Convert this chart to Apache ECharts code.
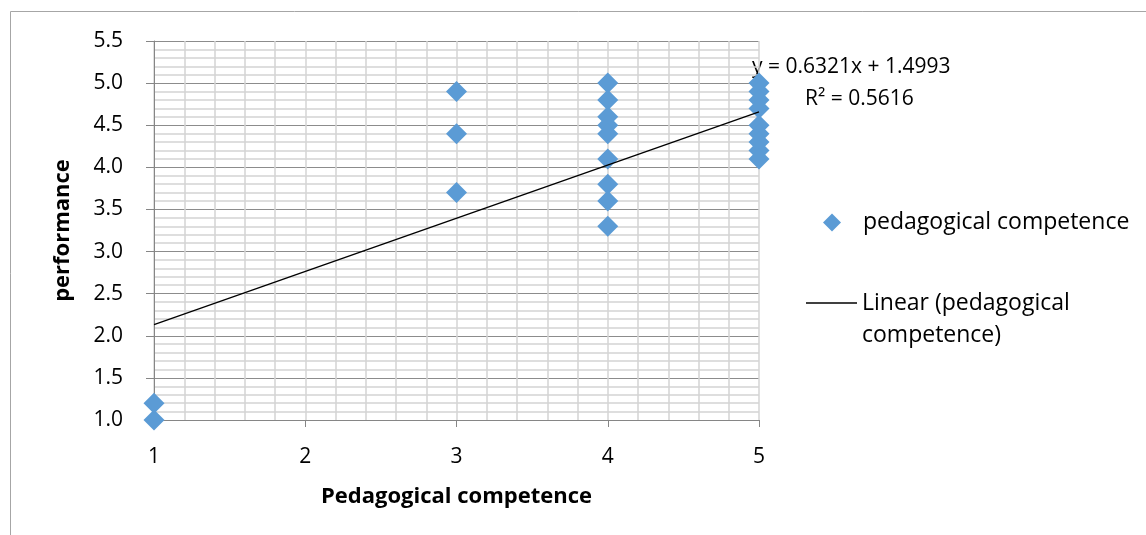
<!DOCTYPE html>
<html>
<head>
<meta charset="utf-8">
<style>
  html, body { margin: 0; padding: 0; background: #ffffff; }
  #chart { width: 1146px; height: 535px; }
</style>
<script src="https://cdn.jsdelivr.net/npm/echarts@6/dist/echarts.min.js"></script>
</head>
<body>
<div id="chart"></div>
<script>
// Pedagogical competence (x) vs performance (y)
const competence = [1, 1, 3, 3, 3, 4, 4, 4, 4, 4, 4, 4, 4, 4, 5, 5, 5, 5, 5, 5, 5, 5, 5];
const performance = [1.0, 1.2, 4.9, 4.4, 3.7, 5.0, 4.8, 4.6, 4.5, 4.4, 4.1, 3.8, 3.6, 3.3, 5.0, 4.9, 4.8, 4.7, 4.5, 4.4, 4.3, 4.2, 4.1];

// Linear trendline as reported
const trendSlope = 0.6321;
const trendIntercept = 1.4993;
const trendRSquared = 0.5616;
const trendRange = [1, 5];

const seriesName = 'pedagogical competence';
const trendName = 'Linear (pedagogical competence)';

const scatterData = competence.map((x, i) => [x, performance[i]]);
const trendData = trendRange.map(x => [x, trendSlope * x + trendIntercept]);

const FONT = '"Open Sans", Lato, sans-serif';
const FS = 21;      // tick labels and equation
const FS_NAME = 22; // axis titles
const FS_LEG = 23;  // legend
// diamond swatch centred in a 52px-wide box (the end points only widen the box)
const DIAMOND_ICON = 'path://M0,9L0,9M52,9L52,9M26,0L35,9L26,18L17,9Z';

const chart = echarts.init(document.getElementById('chart'), null, { renderer: 'canvas' });

chart.setOption({
  animation: false,
  backgroundColor: '#ffffff',
  textStyle: { fontFamily: FONT },
  grid: { left: 154, right: 387, top: 41, bottom: 115, containLabel: false },
  xAxis: {
    type: 'value',
    min: 1, max: 5, interval: 1,
    name: 'Pedagogical competence',
    nameLocation: 'middle',
    nameGap: 66,
    nameTextStyle: { fontFamily: FONT, fontSize: FS_NAME, fontWeight: 'bold', color: '#000' },
    axisLine: { show: true, onZero: false, lineStyle: { color: '#868686', width: 1 } },
    axisTick: { show: true, length: 7, lineStyle: { color: '#868686' } },
    axisLabel: { margin: 27, fontSize: FS, color: '#000', fontFamily: FONT },
    splitLine: { show: true, lineStyle: { color: '#d4d4d4', width: 1.5 } },
    minorTick: { show: false, splitNumber: 5 },
    minorSplitLine: { show: true, lineStyle: { color: '#d4d4d4', width: 1.5 } }
  },
  yAxis: {
    type: 'value',
    min: 1, max: 5.5, interval: 0.5,
    name: 'performance',
    nameLocation: 'middle',
    nameGap: 80,
    nameTextStyle: { fontFamily: FONT, fontSize: FS_NAME, fontWeight: 'bold', color: '#000' },
    axisLine: { show: true, onZero: false, lineStyle: { color: '#868686', width: 1 } },
    axisTick: { show: true, length: 8, lineStyle: { color: '#868686' } },
    axisLabel: { margin: 31, fontSize: FS, color: '#000', fontFamily: FONT, formatter: v => v.toFixed(1) },
    splitLine: { show: true, lineStyle: { color: '#8c8c8c', width: 1 } },
    minorTick: { show: false, splitNumber: 5 },
    minorSplitLine: { show: true, lineStyle: { color: '#d4d4d4', width: 1.5 } }
  },
  legend: [
    {
      orient: 'vertical',
      left: 806, top: 211, padding: 0,
      itemWidth: 52, itemHeight: 18, itemGap: 0,
      textStyle: { fontFamily: FONT, fontSize: FS_LEG, color: '#000' },
      data: [{ name: seriesName, icon: DIAMOND_ICON }],
      selectedMode: false
    },
    {
      orient: 'vertical',
      left: 806, top: 255, padding: 0,
      itemWidth: 51, itemHeight: 1.5, itemGap: 0,
      textStyle: { fontFamily: FONT, fontSize: FS_LEG, color: '#000', lineHeight: 32 },
      // blank first row keeps the swatch level with the first text row
      formatter: () => '\nLinear (pedagogical\ncompetence)',
      data: [{ name: trendName, icon: 'rect' }],
      selectedMode: false
    }
  ],
  series: [
    {
      name: seriesName,
      type: 'scatter',
      symbol: 'diamond',
      symbolSize: 21,
      itemStyle: { color: '#5b9bd5', opacity: 1 },
      data: scatterData,
      z: 3
    },
    {
      name: trendName,
      type: 'line',
      showSymbol: false,
      symbol: 'none',
      lineStyle: { color: '#000000', width: 1.3 },
      itemStyle: { color: '#000000' },
      data: trendData,
      z: 4
    }
  ],
  graphic: [
    {
      type: 'rect',
      shape: { x: 10.5, y: 11.5, width: 1300, height: 700 },
      style: { fill: 'none', stroke: '#a6a6a6', lineWidth: 1 },
      silent: true, z: -1
    },
    {
      type: 'text',
      left: 752, top: 57,
      style: {
        text: 'y = ' + trendSlope.toFixed(4) + 'x + ' + trendIntercept.toFixed(4),
        font: FS + 'px ' + FONT, fill: '#000'
      }
    },
    {
      type: 'text',
      left: 805, top: 89,
      style: {
        text: 'R² = ' + trendRSquared.toFixed(4),
        font: FS + 'px ' + FONT, fill: '#000'
      }
    }
  ]
});
</script>
</body>
</html>
